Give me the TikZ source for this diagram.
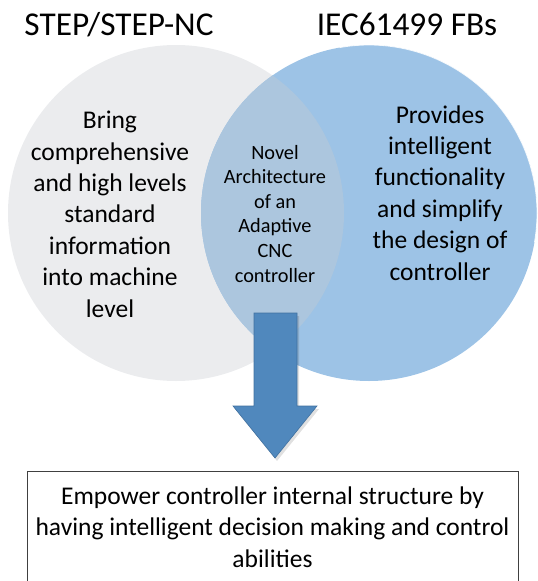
\documentclass[tikz,border=0pt]{standalone}
\usepackage{fontspec}
\setmainfont{Carlito}
\definecolor{grayc}{RGB}{235,236,238}
\definecolor{bluec}{RGB}{157,195,230}
\definecolor{lensc}{RGB}{172,198,222}
\definecolor{arrowc}{RGB}{80,136,189}
\definecolor{arrowe}{RGB}{65,113,160}
\begin{document}
\begin{tikzpicture}[x=1pt,y=-1pt,
  venn/.style={circle,minimum size=336pt,inner sep=0pt},
  bigtxt/.style={align=center,anchor=base,font=\fontsize{25.5}{31.4}\selectfont},
  midtxt/.style={align=center,anchor=base,font=\fontsize{20.3}{24.6}\selectfont},
  titletxt/.style={anchor=base,font=\fontsize{33.3}{40}\selectfont}]
\useasboundingbox (0,0) rectangle (538,581);
% circles
\node[venn,fill=grayc] (L) at (176,213) {};
\node[venn,fill=bluec] (R) at (369,213) {};
\begin{scope}
  \clip (176,213) circle (168);
  \fill[lensc] (369,213) circle (168);
\end{scope}
\draw[white,line width=0.8pt,opacity=0.8] (369,213) ++(-100:168) arc (-100:10:168);
% titles
\node[titletxt] (tL) at (119,35) {STEP/STEP-NC};
\node[titletxt] (tR) at (407,35) {IEC61499 FBs};
% texts
\node[bigtxt] (txL) at (110,317) {Bring\\comprehensive\\and high levels\\standard\\information\\into machine\\level};
\node[bigtxt] (txR) at (440,280) {Provides\\intelligent\\functionality\\and simplify\\the design of\\controller};
\node[midtxt] (txM) at (275,282) {Novel\\Architecture\\of an\\Adaptive\\CNC\\controller};
% arrow
\fill[black,opacity=0.12] (256,316)--(299,316)--(299,409)--(319,409)--(277,461)--(235,409)--(256,409)--cycle;
\filldraw[fill=arrowc,draw=arrowe,line width=0.6pt] (254,313)--(297,313)--(297,406)--(317,406)--(275,458)--(233,406)--(254,406)--cycle;
% box
\draw[line width=0.8pt,draw=black!75] (27,585)--(27,471)--(518,471)--(518,585);
\node[bigtxt] (box) at (272.5,567) {Empower controller internal structure by\\having intelligent decision making and control\\abilities};
\end{tikzpicture}
\end{document}
